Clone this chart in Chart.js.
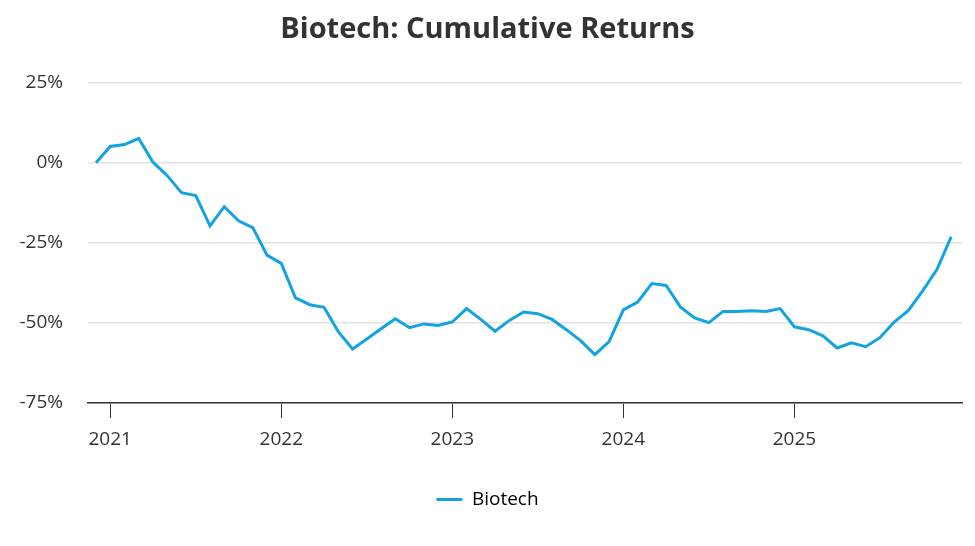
<!DOCTYPE html>
<html>
<head>
<meta charset="utf-8">
<script src="https://cdn.jsdelivr.net/npm/chart.js@4"></script>
<style>
  html, body { margin: 0; padding: 0; background: #fff; }
  #wrap { width: 975px; height: 546px; position: relative; }
</style>
</head>
<body>
<div id="wrap"><canvas id="c"></canvas></div>
<script>
// Monthly observations, Dec 2020 .. Dec 2025
const startYear = 2020;
const startMonth = 12;
const biotechReturns = [
  0, 5.1, 5.7, 7.6, 0.2, -4.0, -9.3, -10.2, -19.7, -13.7, -18.1, -20.2, -28.8,
  -31.4, -42.2, -44.3, -45.1, -52.7, -58.1, -55.0, -51.8, -48.7, -51.5, -50.3, -50.8,
  -49.7, -45.5, -48.9, -52.6, -49.2, -46.6, -47.1, -48.9, -52.1, -55.5, -59.9, -55.8,
  -45.9, -43.5, -37.7, -38.3, -45.0, -48.4, -49.9, -46.4, -46.4, -46.2, -46.4, -45.5,
  -51.2, -52.1, -54.0, -57.8, -56.2, -57.4, -54.6, -49.7, -46.1, -40.0, -33.3, -23.1
];
const yearTicks = [2021, 2022, 2023, 2024, 2025];
const yTicks = [-75, -50, -25, 0, 25];
const seriesName = 'Biotech';
const titleText = 'Biotech: Cumulative Returns';

const points = biotechReturns.map((v, i) => {
  const m = startMonth - 1 + i;
  return { x: startYear + m / 12, y: v };
});

const FONT = "'Open Sans', 'Noto Sans', sans-serif";
const BLUE = '#13a3e3';

new Chart(document.getElementById('c'), {
  type: 'line',
  data: {
    datasets: [{
      label: seriesName,
      data: points,
      borderColor: BLUE,
      backgroundColor: BLUE,
      borderWidth: 3,
      pointRadius: 0,
      tension: 0
    }]
  },
  options: {
    responsive: true,
    maintainAspectRatio: false,
    animation: false,
    layout: { padding: { left: 13, right: 13, top: 6, bottom: 27 } },
    plugins: {
      title: {
        display: true,
        text: titleText,
        color: '#333333',
        font: { family: FONT, size: 29, weight: 'bold' },
        padding: { top: 6, bottom: 36 }
      },
      legend: {
        position: 'bottom',
        labels: {
          color: '#333333',
          font: { family: FONT, size: 19 },
          boxWidth: 26,
          boxHeight: 3,
          padding: 10,
          generateLabels: (chart) => chart.data.datasets.map((d, i) => ({
            text: d.label,
            fillStyle: d.borderColor,
            strokeStyle: d.borderColor,
            lineWidth: 0,
            datasetIndex: i,
            hidden: false
          }))
        }
      },
      tooltip: { enabled: false }
    },
    scales: {
      x: {
        type: 'linear',
        min: 2020.87,
        max: 2025.98,
        afterBuildTicks: (axis) => { axis.ticks = yearTicks.map(v => ({ value: v })); },
        afterFit: (axis) => { axis.height = 77; },
        ticks: {
          color: '#333333',
          font: { family: FONT, size: 19 },
          callback: (v) => String(v),
          padding: 10,
          maxRotation: 0
        },
        grid: { drawOnChartArea: false, drawTicks: true, tickLength: 15, color: '#333333' },
        border: { display: true, color: '#333333', width: 1.5 }
      },
      y: {
        min: -75,
        max: 25,
        afterBuildTicks: (axis) => { axis.ticks = yTicks.map(v => ({ value: v })); },
        afterFit: (axis) => { axis.width = 75; },
        ticks: {
          color: '#333333',
          font: { family: FONT, size: 19 },
          padding: 25,
          callback: (v) => v + '%'
        },
        grid: { color: '#e3e3e3', lineWidth: 1.5, drawTicks: false },
        border: { display: false }
      }
    }
  }
});
</script>
</body>
</html>
